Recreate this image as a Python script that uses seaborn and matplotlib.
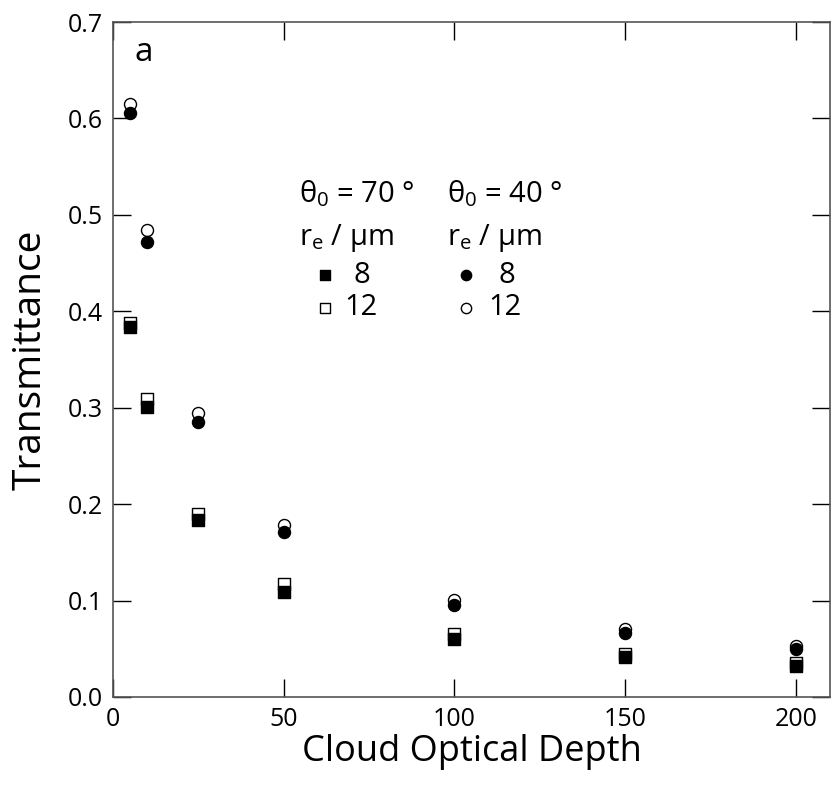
import matplotlib
matplotlib.use("Agg")
import matplotlib.pyplot as plt
import seaborn as sns
import pandas as pd

# ---- data ----
tau = [5, 10, 25, 50, 100, 150, 200]
t70_r8 = [0.384, 0.301, 0.184, 0.109, 0.060, 0.042, 0.032]
t70_r12 = [0.388, 0.309, 0.190, 0.117, 0.065, 0.045, 0.035]
t40_r8 = [0.606, 0.472, 0.285, 0.171, 0.095, 0.066, 0.050]
t40_r12 = [0.615, 0.484, 0.295, 0.178, 0.101, 0.071, 0.053]
xticks = [0, 50, 100, 150, 200]
yticks = [0.0, 0.1, 0.2, 0.3, 0.4, 0.5, 0.6, 0.7]

sns.set_theme(style="ticks")
plt.rcParams["font.family"] = ["Open Sans", "DejaVu Sans"]
plt.rcParams["mathtext.fontset"] = "custom"
plt.rcParams["mathtext.rm"] = "Open Sans"
plt.rcParams["mathtext.it"] = "Open Sans"
plt.rcParams["mathtext.sf"] = "Open Sans"
plt.rcParams["text.color"] = "black"
plt.rcParams["axes.labelcolor"] = "black"
plt.rcParams["xtick.color"] = "black"
plt.rcParams["ytick.color"] = "black"

fig = plt.figure(figsize=(8.31, 7.87), dpi=100)
ax = fig.add_axes([113 / 831, 90 / 787, 717 / 831, 675 / 787])

ms = 75
# open markers first (behind), filled on top
sns.scatterplot(x=tau, y=t40_r12, marker="o", s=ms, facecolor="white",
                edgecolor="black", linewidth=1.0, ax=ax, zorder=3)
sns.scatterplot(x=tau, y=t70_r12, marker="s", s=ms, facecolor="white",
                edgecolor="black", linewidth=1.0, ax=ax, zorder=3)
sns.scatterplot(x=tau, y=t40_r8, marker="o", s=ms, color="black",
                edgecolor="black", linewidth=1.0, ax=ax, zorder=4)
sns.scatterplot(x=tau, y=t70_r8, marker="s", s=ms, color="black",
                edgecolor="black", linewidth=1.0, ax=ax, zorder=4)

ax.set_xlim(0, 210)
ax.set_ylim(0, 0.7)
ax.set_xticks(xticks)
ax.set_yticks(yticks)
ax.set_yticklabels([f"{v:.1f}" for v in yticks])
ax.tick_params(direction="in", length=13, width=1, top=True, right=True,
               labelsize=18, pad=7, color="black", labelcolor="black")
for sp in ax.spines.values():
    sp.set_color("#555555")
    sp.set_linewidth(1.2)

ax.set_xlabel("Cloud Optical Depth", fontsize=26, labelpad=2)
ax.set_ylabel("Transmittance", fontsize=28, labelpad=13)

ax.text(0.03, 0.955, "a", transform=ax.transAxes, fontsize=24,
        va="center", ha="left")

# custom legend as text
fs = 21
ax.text(0.26, 0.745, r"$\mathregular{θ_0}$ = 70 °",
        transform=ax.transAxes, fontsize=fs, va="center", ha="left")
ax.text(0.466, 0.745, r"$\mathregular{θ_0}$ = 40 °",
        transform=ax.transAxes, fontsize=fs, va="center", ha="left")
ax.text(0.26, 0.680, r"$\mathregular{r_e}$ / µm", transform=ax.transAxes,
        fontsize=fs, va="center", ha="left")
ax.text(0.466, 0.680, r"$\mathregular{r_e}$ / µm", transform=ax.transAxes,
        fontsize=fs, va="center", ha="left")
ax.scatter([0.295], [0.625], marker="s", s=55, color="black",
           transform=ax.transAxes)
ax.scatter([0.295], [0.577], marker="s", s=55, facecolor="white",
           edgecolor="black", linewidth=1.0, transform=ax.transAxes)
ax.scatter([0.493], [0.625], marker="o", s=55, color="black",
           transform=ax.transAxes)
ax.scatter([0.493], [0.577], marker="o", s=55, facecolor="white",
           edgecolor="black", linewidth=1.0, transform=ax.transAxes)
ax.text(0.347, 0.625, "8", transform=ax.transAxes, fontsize=fs,
        va="center", ha="center")
ax.text(0.346, 0.577, "12", transform=ax.transAxes, fontsize=fs,
        va="center", ha="center")
ax.text(0.549, 0.625, "8", transform=ax.transAxes, fontsize=fs,
        va="center", ha="center")
ax.text(0.546, 0.577, "12", transform=ax.transAxes, fontsize=fs,
        va="center", ha="center")

fig.savefig("out.png", dpi=100)
